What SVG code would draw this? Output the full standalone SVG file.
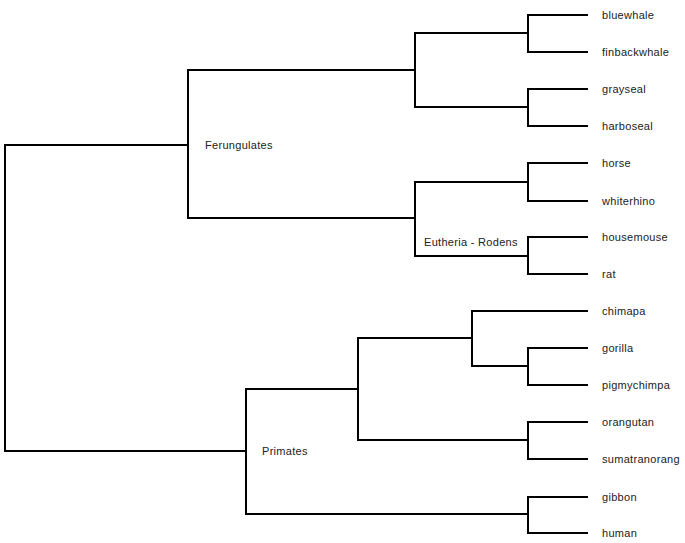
<svg xmlns="http://www.w3.org/2000/svg" width="685" height="543" viewBox="0 0 685 543">
<style>
.e{fill:none;stroke:#000;stroke-width:2;stroke-linecap:square}
text{font-family:"Liberation Sans",Arial,sans-serif;font-size:11px;letter-spacing:0.3px;fill:#222}
</style>
<rect width="685" height="543" fill="#fff"/>
<g id="connectors">
<path class="e" d="M5,145V451M5,145H188M5,451H246"/>
<path class="e" d="M188,70V218M188,70H415M188,218H415"/>
<path class="e" d="M415,33V107M415,33H528M415,107H528"/>
<path class="e" d="M528,15V52M528,15H587M528,52H587"/>
<path class="e" d="M528,89V126M528,89H587M528,126H587"/>
<path class="e" d="M415,182V256M415,182H528M415,256H528"/>
<path class="e" d="M528,163V201M528,163H587M528,201H587"/>
<path class="e" d="M528,237V274M528,237H587M528,274H587"/>
<path class="e" d="M246,389V514M246,389H358M246,514H528"/>
<path class="e" d="M358,338V440M358,338H472M358,440H528"/>
<path class="e" d="M472,311V366M472,311H587M472,366H528"/>
<path class="e" d="M528,348V385M528,348H587M528,385H587"/>
<path class="e" d="M528,422V459M528,422H587M528,459H587"/>
<path class="e" d="M528,497V533M528,497H587M528,533H587"/>
</g>
<g id="n-ferungulates"><text x="205" y="149">Ferungulates</text></g>
<g id="n-eutheria"><text x="424" y="246">Eutheria - Rodens</text></g>
<g id="n-primates"><text x="262" y="455">Primates</text></g>
<g id="n-bluewhale"><text x="602" y="19">bluewhale</text></g>
<g id="n-finbackwhale"><text x="602" y="56">finbackwhale</text></g>
<g id="n-grayseal"><text x="602" y="93">grayseal</text></g>
<g id="n-harboseal"><text x="602" y="130">harboseal</text></g>
<g id="n-horse"><text x="602" y="167">horse</text></g>
<g id="n-whiterhino"><text x="602" y="205">whiterhino</text></g>
<g id="n-housemouse"><text x="602" y="241">housemouse</text></g>
<g id="n-rat"><text x="602" y="278">rat</text></g>
<g id="n-chimapa"><text x="602" y="315">chimapa</text></g>
<g id="n-gorilla"><text x="602" y="352">gorilla</text></g>
<g id="n-pigmychimpa"><text x="602" y="389">pigmychimpa</text></g>
<g id="n-orangutan"><text x="602" y="426">orangutan</text></g>
<g id="n-sumatranorang"><text x="602" y="463">sumatranorang</text></g>
<g id="n-gibbon"><text x="602" y="501">gibbon</text></g>
<g id="n-human"><text x="602" y="537">human</text></g>
</svg>
